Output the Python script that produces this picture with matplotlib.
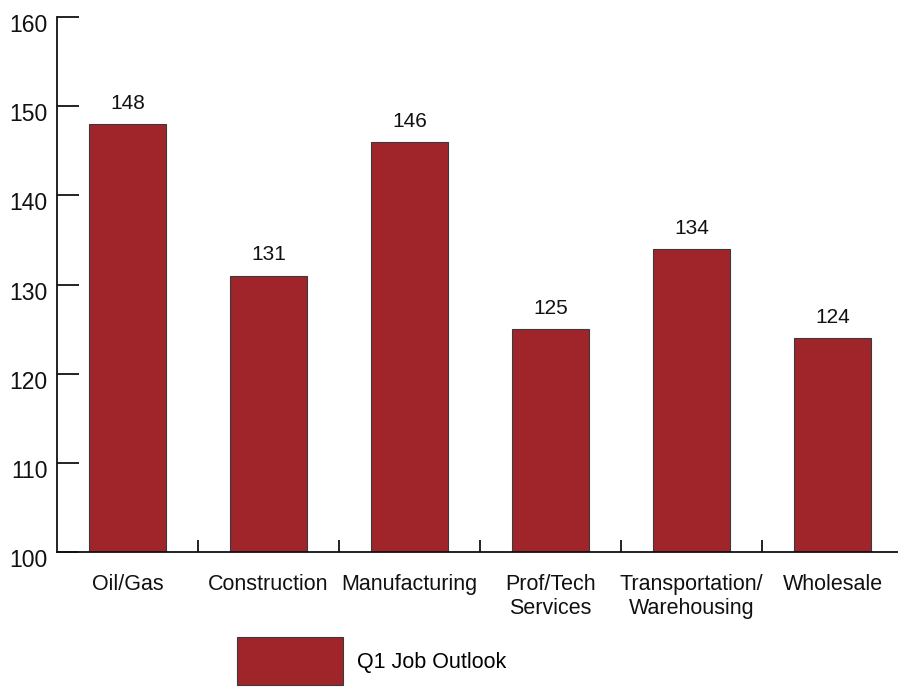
import matplotlib
matplotlib.use("Agg")
import matplotlib.pyplot as plt
from matplotlib.patches import Patch
from matplotlib.transforms import ScaledTranslation

categories = ["Oil/Gas", "Construction", "Manufacturing", "Prof/Tech\nServices",
              "Transportation/\nWarehousing", "Wholesale"]
values = [148, 131, 146, 125, 134, 124]
yticks = [100, 110, 120, 130, 140, 150, 160]
series_name = "Q1 Job Outlook"

plt.rcParams['font.family'] = ['Liberation Sans', 'DejaVu Sans']
color = "#A0252B"

fig = plt.figure(figsize=(8.98, 6.92), dpi=100)
W, H = 898, 692
ax = fig.add_axes([57 / W, (H - 552) / H, 846 / W, 535 / H])

x = list(range(len(categories)))
bars = ax.bar(x, values, width=0.55, color=color, edgecolor="#3a3a3a", linewidth=0.8, zorder=2)
for xi, v in zip(x, values):
    ax.annotate(str(v), (xi, v), xytext=(0, 8), textcoords="offset points",
                ha="center", va="bottom", fontsize=15, color="#111111")

ax.set_xlim(-0.5, len(categories) - 0.5)
ax.set_ylim(100, 160)
ax.set_yticks(yticks)
ax.set_yticklabels([str(t) for t in yticks])
ax.set_xticks(x)
ax.set_xticklabels(categories, linespacing=1.15)
ax.set_xticks([i + 0.5 for i in range(len(categories) - 1)], minor=True)

for s in ["top", "right"]:
    ax.spines[s].set_visible(False)
for s in ["left", "bottom"]:
    ax.spines[s].set_linewidth(1.3)
    ax.spines[s].set_color("#111111")

ax.tick_params(axis="y", direction="in", length=16, width=1.3, pad=7, labelsize=16.5, colors="#111111")
ax.tick_params(axis="x", which="major", length=0, pad=16, labelsize=15.5, colors="#111111")
ax.tick_params(axis="x", which="minor", direction="in", length=9, width=1.3, colors="#111111")

off = ScaledTranslation(0, -6 / 100, fig.dpi_scale_trans)
for lab in ax.get_yticklabels():
    lab.set_transform(lab.get_transform() + off)

handle = Patch(facecolor=color, edgecolor="#3a3a3a", linewidth=0.8)
fig.legend([handle], [series_name], loc="upper left",
           bbox_to_anchor=(233 / W, 1 - 633 / H), frameon=False,
           handlelength=4.9, handleheight=3.05, handletextpad=0.65,
           fontsize=15.5, borderaxespad=0, borderpad=0.2)

fig.savefig("out.png", dpi=100)
